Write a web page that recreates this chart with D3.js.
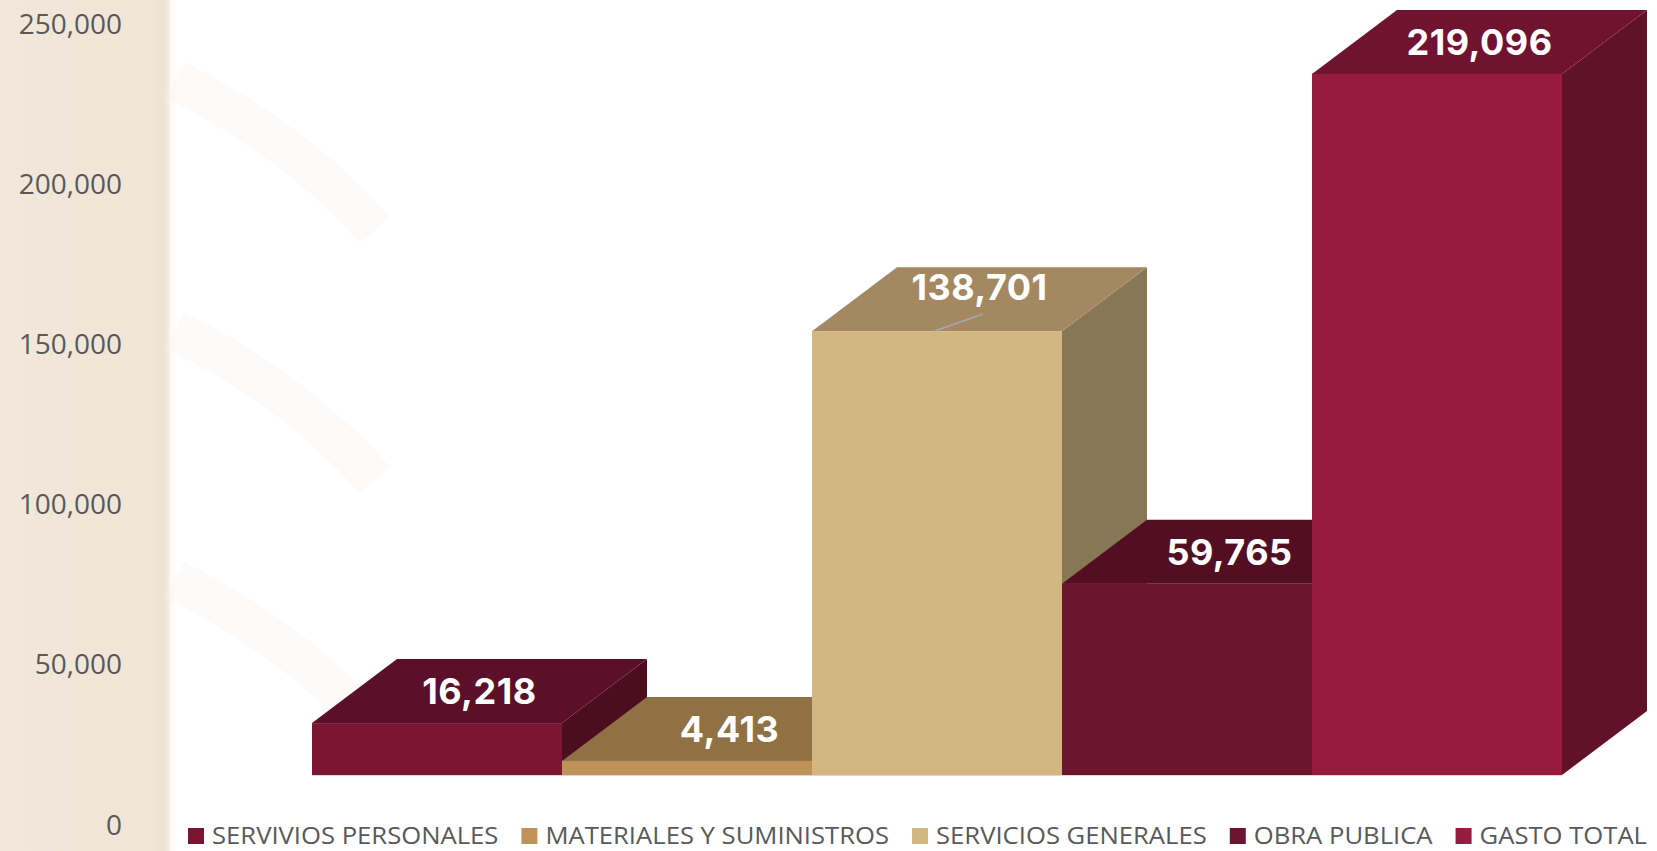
<!DOCTYPE html>
<html>
<head>
<meta charset="utf-8">
<script src="https://cdn.jsdelivr.net/npm/d3@7"></script>
<style>
  html, body { margin: 0; padding: 0; background: #ffffff; }
  svg { display: block; }
</style>
</head>
<body>
<svg id="chart" width="1657" height="851"></svg>
<script>
// ---- Data ----
const categories = ["SERVIVIOS PERSONALES", "MATERIALES Y SUMINISTROS", "SERVICIOS GENERALES", "OBRA PUBLICA", "GASTO TOTAL"];
const values = [16218, 4413, 138701, 59765, 219096];
const yTicks = [0, 50000, 100000, 150000, 200000, 250000];

// ---- Styles ----
const frontColors = ["#7a1532", "#bf9258", "#d3b783", "#6b152e", "#961b3f"];
const topColors   = ["#5b0f28", "#8f7144", "#a38862", "#520f23", "#701331"];
const sideColors  = ["#4c0d20", "#7a603a", "#887754", "#450c1d", "#62112b"];

const W = 1657, H = 851;
const svg = d3.select("#chart");
const defs = svg.append("defs");

// left beige panel
const grad = defs.append("linearGradient").attr("id", "panelGrad").attr("x1", 0).attr("x2", 1).attr("y1", 0).attr("y2", 0);
grad.append("stop").attr("offset", "0%").attr("stop-color", "#f1e7da");
grad.append("stop").attr("offset", "90%").attr("stop-color", "#f0e5d6");
grad.append("stop").attr("offset", "96%").attr("stop-color", "#eee2d2");
grad.append("stop").attr("offset", "100%").attr("stop-color", "#f7f0e7");
svg.append("rect").attr("x", 0).attr("y", 0).attr("width", 170).attr("height", H).attr("fill", "url(#panelGrad)");
svg.append("rect").attr("x", 170).attr("y", 0).attr("width", 5).attr("height", H).attr("fill", "#fdfbf8");

// very faint background swooshes
const sw = svg.append("g").attr("fill", "none").attr("stroke", "#f7f5f3").attr("stroke-width", 40).attr("opacity", 0.35);
[[175, 80], [175, 330], [175, 580]].forEach(([x, y]) => {
  sw.append("path").attr("d", `M${x},${y} Q${x + 120},${y + 60} ${x + 200},${y + 150}`);
});

// ---- Scales ----
const x = d3.scaleBand().domain(categories).range([312, 1562]).paddingInner(0).paddingOuter(0);
const yBar = d3.scaleLinear().domain([0, 250000]).range([775, -25]);  // front-face scale
const yAxisScale = d3.scaleLinear().domain([0, 250000]).range([824, 23]); // back-wall axis

const depthX = 85, depthY = 64;

// ---- Axis labels ----
const axis = d3.axisLeft(yAxisScale).tickValues(yTicks).tickFormat(d3.format(",")).tickSize(0).tickPadding(0);
const axisG = svg.append("g").attr("transform", "translate(122,0)").call(axis);
axisG.select(".domain").remove();
axisG.selectAll("text")
  .attr("font-family", "'Open Sans', sans-serif")
  .attr("font-size", 28)
  .attr("fill", "#595959")
  .attr("dy", "0.36em")
  .attr("text-anchor", "end");

// ---- Bars (painter's order: left to right) ----
const barsG = svg.append("g");
categories.forEach((c, i) => {
  const v = values[i];
  const x0 = x(c), x1 = x(c) + x.bandwidth();
  const yT = yBar(v), yB = yBar(0);
  const g = barsG.append("g");
  g.append("path")
    .attr("d", `M${x1},${yT} L${x1 + depthX},${yT - depthY} L${x1 + depthX},${yB - depthY} L${x1},${yB} Z`)
    .attr("fill", sideColors[i]);
  g.append("path")
    .attr("d", `M${x0},${yT} L${x0 + depthX},${yT - depthY} L${x1 + depthX},${yT - depthY} L${x1},${yT} Z`)
    .attr("fill", topColors[i]);
  g.append("rect")
    .attr("x", x0).attr("y", yT)
    .attr("width", x.bandwidth()).attr("height", yB - yT)
    .attr("fill", frontColors[i]);
});

// floor edge line
svg.append("line").attr("x1", x.range()[0]).attr("x2", x.range()[1])
  .attr("y1", yBar(0) + 0.5).attr("y2", yBar(0) + 0.5)
  .attr("stroke", "#e8cfd6").attr("stroke-width", 1);

// ---- Value labels ----
const fmt = d3.format(",");
const labelsG = svg.append("g");
categories.forEach((c, i) => {
  const v = values[i];
  const cx = x(c) + x.bandwidth() / 2 + depthX / 2;
  let cy = yBar(v) - depthY / 2;
  const lifted = (i === 2);
  if (lifted) cy -= 12;
  if (lifted) {
    labelsG.append("line")
      .attr("x1", x(c) + x.bandwidth() * 0.49).attr("y1", yBar(v))
      .attr("x2", cx + 3).attr("y2", yBar(v) - 17)
      .attr("stroke", "#a6a6a6").attr("stroke-width", 2);
  }
  labelsG.append("text")
    .attr("x", cx).attr("y", cy)
    .attr("dy", "0.36em")
    .attr("text-anchor", "middle")
    .attr("font-family", "Inter, 'Open Sans', sans-serif")
    .attr("font-weight", 700)
    .attr("font-size", 36)
    .attr("letter-spacing", 0.5)
    .attr("fill", "#ffffff")
    .text(fmt(v));
});

// ---- Legend ----
const legendG = svg.append("g");
const legStart = 188, legEnd = 1647, swSize = 16, txtOff = 24, gap = 23, legY = 836;
const texts = categories.map((c) => legendG.append("text")
  .attr("font-family", "'Open Sans', sans-serif")
  .attr("font-size", 23)
  .attr("fill", "#595959")
  .attr("dy", "0.36em")
  .attr("y", legY)
  .text(c));
const natural = texts.map(t => t.node().getComputedTextLength());
const avail = (legEnd - legStart) - categories.length * txtOff - (categories.length - 1) * gap;
const s = avail / d3.sum(natural);
let cur = legStart;
categories.forEach((c, i) => {
  legendG.append("rect")
    .attr("x", cur).attr("y", legY - swSize / 2)
    .attr("width", swSize).attr("height", swSize)
    .attr("fill", frontColors[i]);
  const w = natural[i] * s;
  texts[i].attr("x", cur + txtOff)
    .attr("textLength", w)
    .attr("lengthAdjust", "spacingAndGlyphs");
  cur += txtOff + w + gap;
});
</script>
</body>
</html>
